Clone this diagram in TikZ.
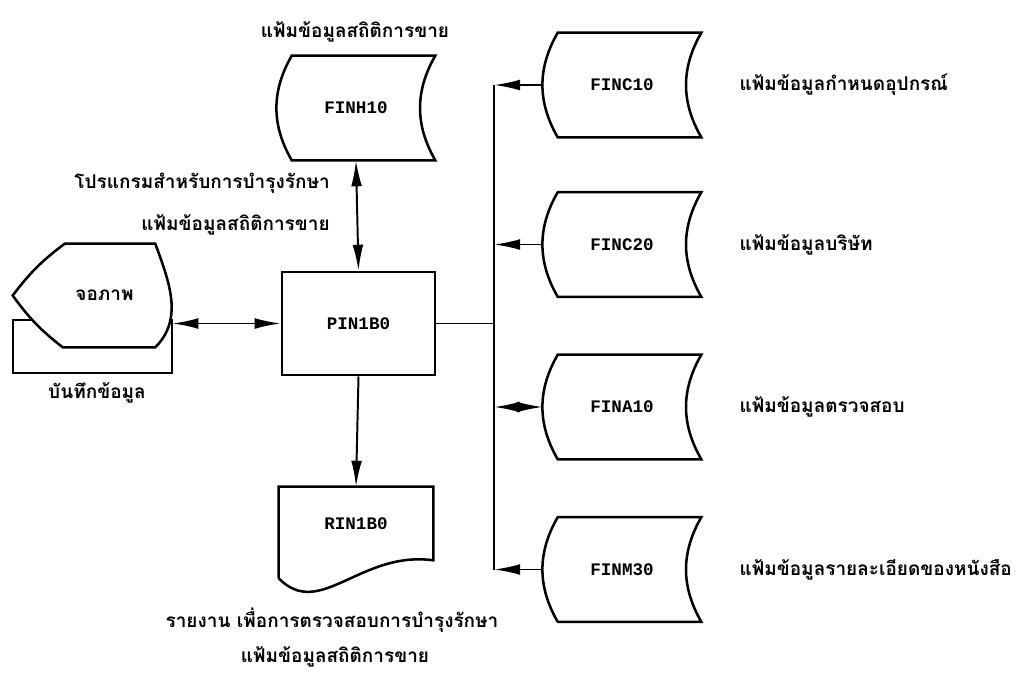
\documentclass[tikz,border=0pt]{standalone}
\usepackage{fontspec}
\usetikzlibrary{arrows.meta,positioning}
\newfontfamily\thaifont[Script=Thai]{Loma}
\newfontfamily\codefont{Liberation Mono}
\tikzset{main node/.style={rectangle,draw,line width=1.8pt,minimum width=3.825cm,minimum height=2.575cm,inner sep=0pt,font=\codefont\bfseries\fontsize{12.5}{14}\selectfont},
         store node/.style={rectangle,minimum width=3.95cm,minimum height=2.6cm,inner sep=0pt,font=\codefont\bfseries\fontsize{12.5}{14}\selectfont},
         doc node/.style={rectangle,minimum width=3.85cm,minimum height=1.825cm,inner sep=0pt,font=\codefont\bfseries\fontsize{12.5}{14}\selectfont},
         screen node/.style={rectangle,minimum width=3.975cm,minimum height=2.575cm,inner sep=0pt},
         rec node/.style={rectangle,draw,line width=1.8pt,minimum width=3.975cm,minimum height=1.325cm,inner sep=0pt},
         thai label/.style={rectangle,inner sep=0pt,font=\thaifont\bfseries\fontsize{13.5}{16}\selectfont},
         shape line/.style={line width=1.8pt},
         tip/.tip={Latex[length=6.5mm,width=2.7mm]},
}

\begin{document}
\begin{tikzpicture}[x=0.025cm,y=0.025cm,
line/.style={line width=1.4pt},
one arrow/.style={line,-tip},
two arrow/.style={line,tip-tip}]

\useasboundingbox (0,0) rectangle (1020,-673);

% program
\node[main node] (pin) at (358.5,-323.5) {PIN1B0};

% files
\node[store node] (finh) at (356,-108) {FINH10};
\node[store node] (finca) at (622,-85) {FINC10};
\node[store node] (fincb) at (622,-244.5) {FINC20};
\node[store node] (fina) at (622,-407) {FINA10};
\node[store node] (finm) at (622,-569.5) {FINM30};
\foreach \n in {finh,finca,fincb,fina,finm}
    \draw[shape line] ([xshift=3.75mm]\n.north west) -- (\n.north east)
        to[out=-120,in=120] (\n.south east) -- ([xshift=3.75mm]\n.south west)
        to[out=120,in=-120] cycle;

% report
\node[doc node] (rin) at (356,-523.5) {RIN1B0};
\draw[shape line] ([yshift=-4.5mm]rin.south west) -- (rin.north west) -- (rin.north east) -- (rin.south east)
    .. controls ([shift={(-73,10)}]rin.south east) and ([shift={(41,-60)}]rin.south west) .. ([yshift=-4.5mm]rin.south west);

% screen and record
\node[rec node] (rec) at (92.5,-346.5) {};
\node[screen node] (disp) at (92.5,-295.5) {};
\draw[shape line,fill=white] (disp.west) to[bend left=8] ([xshift=13mm]disp.north west)
    -- ([xshift=-4.25mm]disp.north east) to[out=-70,in=45] ([xshift=-4.25mm]disp.south east)
    -- ([xshift=12.5mm]disp.south west) to[bend left=8] cycle;
\node[thai label] (disptext) at ([xshift=3mm]disp.center) {จอภาพ};

% bus
\coordinate (bus) at (494,-323.5);

\draw[two arrow] (pin.west) -- (pin.west -| disp.east);
\draw[two arrow] (pin.north) -- (finh.south);
\draw[one arrow] (pin.south) -- (rin.north);
\draw[line] (pin.east) -- (bus);
\draw[line] (bus |- finca.west) -- (bus |- finm.west);
\draw[one arrow] (finca.west) -- (bus |- finca.west);
\draw[one arrow] (fincb.west) -- (bus |- fincb.west);
\draw[two arrow] (fina.west) -- (bus |- fina.west);
\draw[one arrow] (finm.west) -- (bus |- finm.west);

% labels
\node[thai label] (finhlabel) at (355,-32) {แฟ้มข้อมูลสถิติการขาย};
\node[thai label,anchor=east] (proglabel) at (330,-183) {โปรแกรมสำหรับการบำรุงรักษา};
\node[thai label,anchor=east] (filelabel) at (330,-225) {แฟ้มข้อมูลสถิติการขาย};
\node[thai label] (reclabel) at (97,-393) {บันทึกข้อมูล};
\node[thai label] (rinlabela) at (332,-620) {รายงาน เพื่อการตรวจสอบการบำรุงรักษา};
\node[thai label] (rinlabelb) at (335,-657) {แฟ้มข้อมูลสถิติการขาย};
\node[thai label,right=0.95cm of finca] (fincalabel) {แฟ้มข้อมูลกำหนดอุปกรณ์};
\node[thai label,right=0.95cm of fincb] (fincblabel) {แฟ้มข้อมูลบริษัท};
\node[thai label,right=0.95cm of fina] (finalabel) {แฟ้มข้อมูลตรวจสอบ};
\node[thai label,right=0.95cm of finm] (finmlabel) {แฟ้มข้อมูลรายละเอียดของหนังสือ};
\end{tikzpicture}
\end{document}
